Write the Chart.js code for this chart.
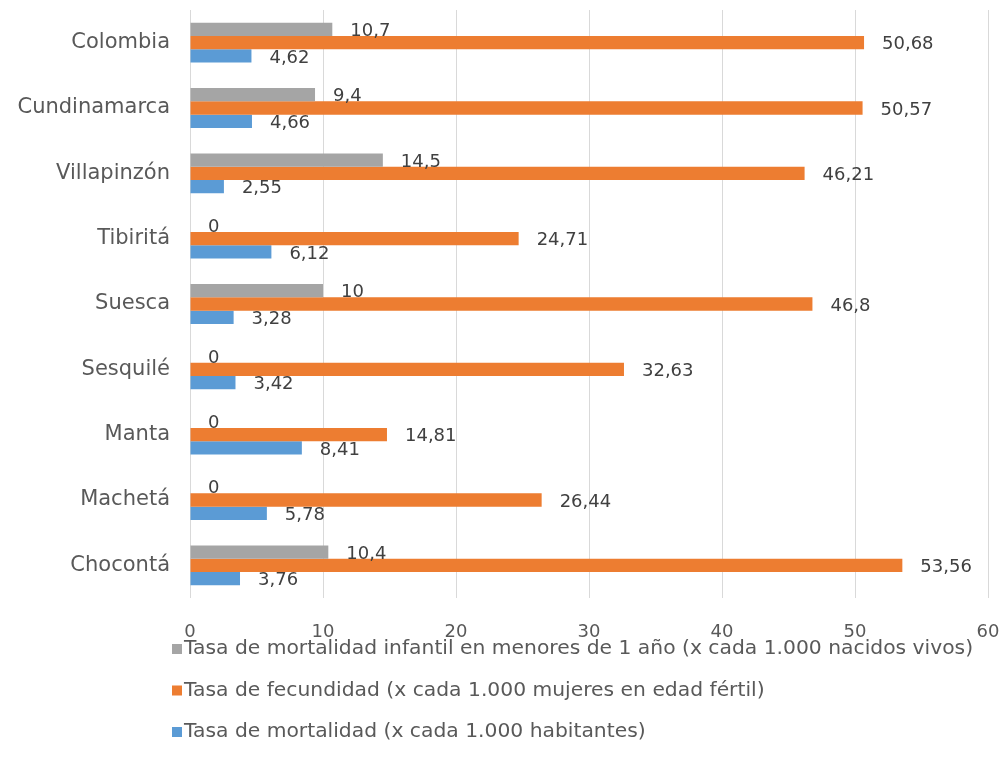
<!DOCTYPE html>
<html>
<head>
<meta charset="utf-8">
<script src="https://cdn.jsdelivr.net/npm/chart.js@4.4.0/dist/chart.umd.min.js"></script>
<style>
html,body{margin:0;padding:0;background:#fff;}
#wrap{width:1002px;height:767px;position:relative;}
</style>
</head>
<body>
<div id="wrap"><canvas id="c" width="1002" height="767"></canvas></div>
<script>
const categories = ["Colombia","Cundinamarca","Villapinzón","Tibiritá","Suesca","Sesquilé","Manta","Machetá","Chocontá"];
const mortalidadInfantil = [10.7, 9.4, 14.5, 0, 10, 0, 0, 0, 10.4];
const fecundidad = [50.68, 50.57, 46.21, 24.71, 46.8, 32.63, 14.81, 26.44, 53.56];
const mortalidad = [4.62, 4.66, 2.55, 6.12, 3.28, 3.42, 8.41, 5.78, 3.76];
const seriesNames = [
  "Tasa de mortalidad infantil en menores de 1 año (x cada 1.000 nacidos vivos)",
  "Tasa de fecundidad (x cada 1.000 mujeres en edad fértil)",
  "Tasa de mortalidad (x cada 1.000 habitantes)"
];
const xTicks = [0,10,20,30,40,50,60];

const FONT = "'DejaVu Sans', sans-serif";
const TXT = "#595959";

function fmt(v){ return String(v).replace('.', ','); }

function zeroPad(scale){
  scale.paddingTop = 0; scale.paddingBottom = 0;
  scale.paddingLeft = 0; scale.paddingRight = 0;
}

const labelPlugin = {
  id: 'barLabels',
  afterDatasetsDraw(chart){
    const ctx = chart.ctx;
    ctx.save();
    ctx.font = "18px " + FONT;
    ctx.fillStyle = "#404040";
    ctx.textAlign = 'left';
    ctx.textBaseline = 'middle';
    chart.data.datasets.forEach((ds, di) => {
      const meta = chart.getDatasetMeta(di);
      meta.data.forEach((bar, i) => {
        ctx.fillText(fmt(ds.data[i]), bar.x + 18, bar.y + 2);
      });
    });
    ctx.restore();
  }
};

const legendPlugin = {
  id: 'vertLegend',
  afterDraw(chart){
    const ctx = chart.ctx;
    ctx.save();
    ctx.font = "20.3px " + FONT;
    ctx.textAlign = 'left';
    ctx.textBaseline = 'middle';
    const x0 = 172, y0 = 649, step = 41.5;
    chart.data.datasets.forEach((ds, i) => {
      const y = y0 + i*step;
      ctx.fillStyle = ds.backgroundColor;
      ctx.fillRect(x0, y - 5, 10, 10);
      ctx.fillStyle = TXT;
      ctx.fillText(ds.label, x0 + 12, y);
    });
    ctx.restore();
  }
};

new Chart(document.getElementById('c'), {
  type: 'bar',
  data: {
    labels: categories,
    datasets: [
      {label: seriesNames[0], data: mortalidadInfantil, backgroundColor: '#A5A5A5'},
      {label: seriesNames[1], data: fecundidad, backgroundColor: '#ED7D31'},
      {label: seriesNames[2], data: mortalidad, backgroundColor: '#5B9BD5'}
    ]
  },
  options: {
    indexAxis: 'y',
    responsive: false,
    animation: false,
    categoryPercentage: 0.61,
    barPercentage: 1.0,
    layout: {padding: {top: 10, right: 14, left: 0, bottom: 119}},
    plugins: {legend: {display: false}, tooltip: {enabled: false}},
    scales: {
      x: {
        min: 0, max: 60,
        afterBuildTicks(scale){ scale.ticks = xTicks.map(v => ({value: v})); },
        afterFit(scale){ scale.height = 50; zeroPad(scale); },
        grid: {color: '#D9D9D9', lineWidth: 1, drawTicks: false},
        border: {display: false},
        ticks: {font: {family: FONT, size: 18}, color: TXT, padding: 24, maxRotation: 0}
      },
      y: {
        afterFit(scale){ scale.width = 190; zeroPad(scale); },
        grid: {display: false, drawTicks: false},
        border: {display: false},
        ticks: {font: {family: FONT, size: 21}, color: TXT, padding: 20}
      }
    }
  },
  plugins: [labelPlugin, legendPlugin]
});
</script>
</body>
</html>
